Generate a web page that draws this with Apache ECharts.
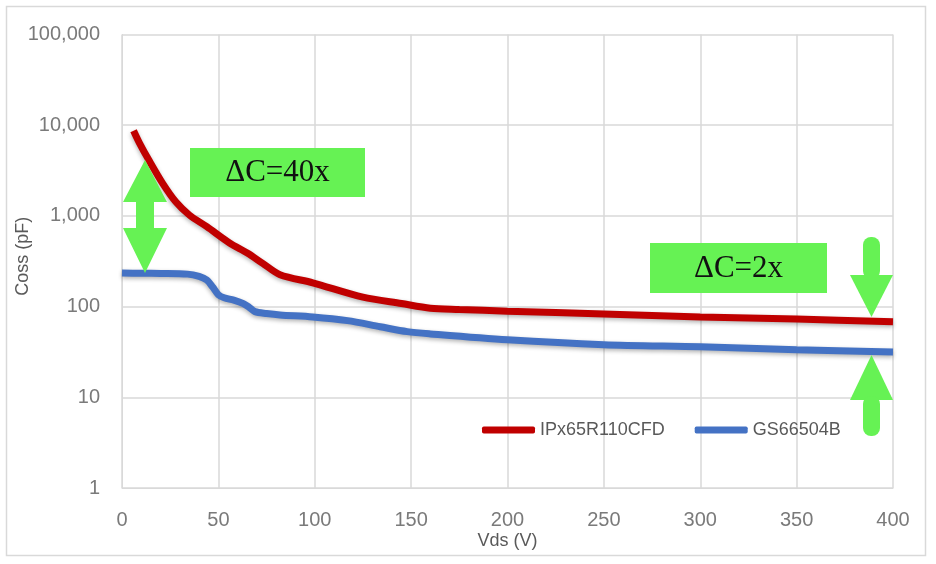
<!DOCTYPE html>
<html>
<head>
<meta charset="utf-8">
<script src="https://cdn.jsdelivr.net/npm/echarts@6/dist/echarts.min.js"></script>
<style>
html,body{margin:0;padding:0;background:#fff;}
#chart{width:936px;height:564px;}
</style>
</head>
<body>
<div id="chart"></div>
<script>
// Data
var redName = 'IPx65R110CFD';
var blueName = 'GS66504B';
var redVds = [6, 9, 14, 21, 28, 35, 44, 56, 65, 73, 82, 99, 125, 145, 160, 175, 200, 250, 300, 350, 400];
var redCoss = [8700, 6400, 4100, 2300, 1420, 1020, 760, 500, 390, 300, 225, 183, 127, 108, 96, 93, 89, 83, 77, 73, 68];
var blueVds = [0, 10, 20, 34, 40, 44, 47, 50, 53, 58, 63, 66, 69, 75, 82, 99, 117, 134, 148, 160, 200, 250, 300, 350, 400];
var blueCoss = [235, 233, 232, 228, 215, 196, 165, 135, 125, 118, 108, 98, 88, 84, 81, 77, 70, 60, 53, 50, 43, 38, 36, 33.5, 31.6];
var xTicks = [0, 50, 100, 150, 200, 250, 300, 350, 400];
var yTicks = [1, 10, 100, 1000, 10000, 100000];
var note1 = '\u0394C=40x';
var note2 = '\u0394C=2x';

function pairs(xs, ys) { return xs.map(function (x, i) { return [x, ys[i]]; }); }

var chart = echarts.init(document.getElementById('chart'));
var green = '#66f254';
var gridColor = '#d9d9d9';
var tickColor = '#7a7a7a';

var option = {
  backgroundColor: '#ffffff',
  animation: false,
  grid: { left: 122, right: 43, top: 34.5, bottom: 76, outerBoundsMode: 'none', containLabel: false },
  legend: {
    left: 477, top: 416,
    itemWidth: 53, itemHeight: 7, itemGap: 30,
    icon: 'roundRect',
    textStyle: { color: '#595959', fontSize: 18, fontFamily: 'Liberation Sans, Arial, sans-serif' },
    data: [redName, blueName]
  },
  xAxis: {
    type: 'value', min: xTicks[0], max: xTicks[xTicks.length - 1], interval: 50,
    name: 'Vds (V)', nameLocation: 'middle', nameGap: 44, nameMoveOverlap: false,
    nameTextStyle: { color: '#595959', fontSize: 18, fontFamily: 'Liberation Sans, Arial, sans-serif' },
    axisLine: { show: true, lineStyle: { color: gridColor } },
    axisTick: { show: false },
    axisLabel: { color: tickColor, fontSize: 20, margin: 22, fontFamily: 'Liberation Sans, Arial, sans-serif' },
    splitLine: { show: true, lineStyle: { color: gridColor, width: 1.5 } }
  },
  yAxis: {
    type: 'log', logBase: 10, min: yTicks[0], max: yTicks[yTicks.length - 1],
    name: 'Coss (pF)', nameLocation: 'middle', nameGap: 90, nameRotate: 90, nameMoveOverlap: false,
    nameTextStyle: { color: '#595959', fontSize: 18, fontFamily: 'Liberation Sans, Arial, sans-serif', padding: [0, 0, 0, 10] },
    axisLine: { show: true, lineStyle: { color: gridColor } },
    axisTick: { show: false },
    axisLabel: {
      color: tickColor, fontSize: 20, margin: 22, fontFamily: 'Liberation Sans, Arial, sans-serif',
      formatter: function (v) { return Math.round(v).toLocaleString('en-US'); }
    },
    splitLine: { show: true, lineStyle: { color: gridColor, width: 1.5 } }
  },
  series: [
    {
      name: redName, type: 'line', data: pairs(redVds, redCoss), showSymbol: false, smooth: 0.3,
      color: '#c00000',
      lineStyle: { width: 7, color: '#c00000', shadowColor: 'rgba(0,0,0,0.3)', shadowBlur: 4, shadowOffsetY: 2 },
      z: 3
    },
    {
      name: blueName, type: 'line', data: pairs(blueVds, blueCoss), showSymbol: false, smooth: 0.3,
      color: '#4472c4',
      lineStyle: { width: 7, color: '#4472c4', shadowColor: 'rgba(0,0,0,0.3)', shadowBlur: 4, shadowOffsetY: 2 },
      z: 2
    }
  ],
  graphic: [
    { type: 'rect', shape: { x: 6.5, y: 6.5, width: 919, height: 549 }, style: { fill: 'none', stroke: '#d9d9d9', lineWidth: 1.5 }, silent: true, z: 0 },
    // box 1
    { type: 'rect', shape: { x: 190, y: 148, width: 175, height: 49 }, style: { fill: green }, z: 10 },
    { type: 'text', x: 277.5, y: 173, style: { text: note1, fill: '#111', font: '31px "Liberation Serif", "DejaVu Serif", serif', textAlign: 'center', textVerticalAlign: 'middle' }, z: 11 },
    // box 2
    { type: 'rect', shape: { x: 650, y: 243, width: 177, height: 50 }, style: { fill: green }, z: 10 },
    { type: 'text', x: 738.5, y: 268.5, style: { text: note2, fill: '#111', font: '31px "Liberation Serif", "DejaVu Serif", serif', textAlign: 'center', textVerticalAlign: 'middle' }, z: 11 },
    // left double arrow
    { type: 'polygon', shape: { points: [[145, 160], [167, 202], [154, 202], [154, 228], [167, 228], [145, 273], [123, 228], [136, 228], [136, 202], [123, 202]] }, style: { fill: green }, z: 10 },
    // right down arrow
    { type: 'rect', shape: { x: 863, y: 237, width: 17, height: 42, r: 8 }, style: { fill: green }, z: 10 },
    { type: 'polygon', shape: { points: [[850, 275], [893, 275], [871.5, 317]] }, style: { fill: green }, z: 10 },
    // right up arrow
    { type: 'polygon', shape: { points: [[871.5, 355], [893, 400], [850, 400]] }, style: { fill: green }, z: 10 },
    { type: 'rect', shape: { x: 863, y: 396, width: 17, height: 40, r: 8 }, style: { fill: green }, z: 10 }
  ]
};
chart.setOption(option);
</script>
</body>
</html>
